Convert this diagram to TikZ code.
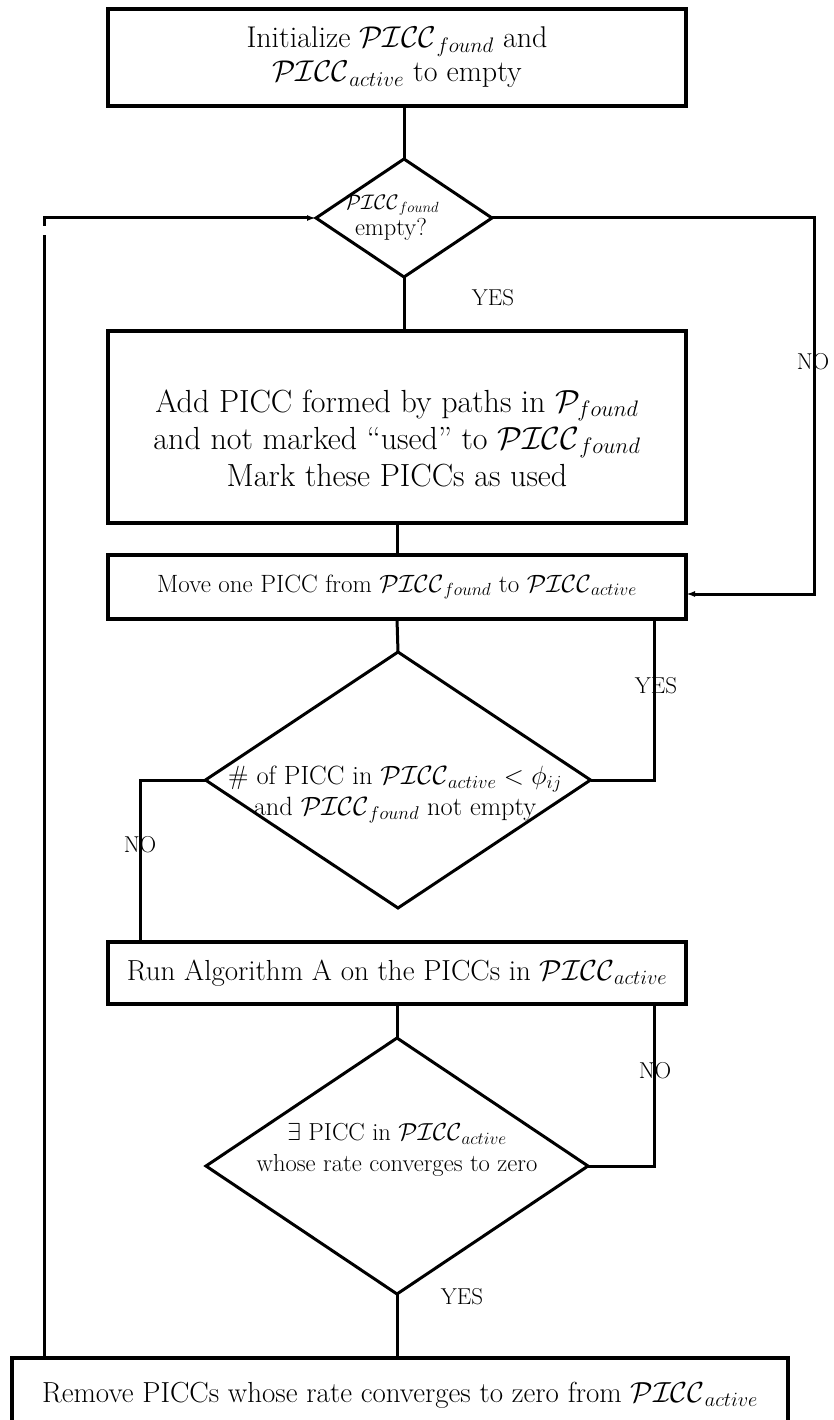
\RequirePackage{fix-cm}
\documentclass[tikz,border=0pt]{standalone}
\usetikzlibrary{shapes.geometric,arrows.meta}
\newcommand{\PICC}{\mathcal{PICC}}

\begin{document}
\begin{tikzpicture}[x=1pt,y=-1pt,
  box/.style={draw, line width=3.4pt, inner sep=0pt, outer sep=0pt, align=center},
  dia/.style={draw, diamond, line width=3pt, inner sep=0pt, outer sep=0pt},
  conn/.style={line width=3pt},
  arr/.style={conn, -{Latex[length=9pt,width=6pt]}},
  lbl/.style={font=\fontsize{23}{27}\selectfont, inner sep=0pt},
  txt/.style={inner sep=0pt, align=center}
]
\useasboundingbox (0,0) rectangle (833,1420);
\clip (0,0) rectangle (833,1420);

% process boxes
\node[box, minimum width=578pt, minimum height=97pt,
      font=\fontsize{30}{34}\selectfont] (init) at (397,57.5)
  {Initialize $\PICC_{found}$ and\\ $\PICC_{active}$ to empty};
\node[box, minimum width=578pt, minimum height=192pt] (add) at (397,427) {};
\node[txt, font=\fontsize{32}{37}\selectfont] (addT) at (397,438)
  {Add PICC formed by paths in $\mathcal{P}_{found}$\\
   and not marked ``used'' to $\PICC_{found}$\\
   Mark these PICCs as used};
\node[box, minimum width=578pt, minimum height=64pt,
      font=\fontsize{25}{30}\selectfont] (move) at (397,587)
  {Move one PICC from $\PICC_{found}$ to $\PICC_{active}$};
\node[box, minimum width=578pt, minimum height=62pt,
      font=\fontsize{29}{34}\selectfont] (run) at (397,973)
  {Run Algorithm A on the PICCs in $\PICC_{active}$};
\node[box, minimum width=776pt, minimum height=74pt,
      font=\fontsize{29}{34}\selectfont] (rem) at (400,1395)
  {Remove PICCs whose rate converges to zero from $\PICC_{active}$};

% decisions
\node[dia, minimum width=176pt, minimum height=118pt] (d1) at (404,218) {};
\node[txt, font=\fontsize{21}{25}\selectfont] (d1a) at (392,205) {$\PICC_{found}$};
\node[txt, font=\fontsize{24.5}{28}\selectfont] (d1b) at (391,229) {empty?};

\node[dia, minimum width=385pt, minimum height=256pt] (d2) at (398,780) {};
\node[txt, font=\fontsize{26.4}{31}\selectfont] (d2T) at (395,795)
  {\# of PICC in $\PICC_{active} < \phi_{ij}$\\ and $\PICC_{found}$ not empty};

\node[dia, minimum width=382pt, minimum height=256pt] (d3) at (397,1166) {};
\node[txt, font=\fontsize{24.6}{31}\selectfont] (d3T) at (397,1150)
  {$\exists$ PICC in $\PICC_{active}$\\ whose rate converges to zero};

% bend points
\coordinate (r1) at (814,594);
\coordinate (r2) at (654,780);
\coordinate (l2) at (140,780);
\coordinate (r3) at (654,1166);
\coordinate (lgap) at (44,235);
\coordinate (ltop) at (44,226);

% connectors
\draw[conn] (d1.north |- init.south) -- (d1.north);
\draw[conn] (d1.south) -- (d1.south |- add.north);
\draw[arr] (d1.east) -| (r1) -- (r1 -| move.east);
\draw[conn] (add.south) -- (move.north);
\draw[conn] (move.south) -- (d2.north);
\draw[conn] (r2 |- move.south) -- (r2) -- (d2.east);
\draw[conn] (d2.west) -- (l2) -- (l2 |- run.north);
\draw[conn] (run.south) -- (d3.north);
\draw[conn] (r3 |- run.south) -- (r3) -- (d3.east);
\draw[conn] (d3.south) -- (d3.south |- rem.north);
\draw[conn] (lgap |- rem.north) -- (lgap);
\draw[arr] (ltop) |- (d1.west);

% branch labels
\node[lbl] (y1) at (493,298) {YES};
\node[lbl] (n1) at (813,362) {NO};
\node[lbl] (y2) at (656,686) {YES};
\node[lbl] (n2) at (140,845) {NO};
\node[lbl] (n3) at (655,1071) {NO};
\node[lbl] (y3) at (462,1297) {YES};
\end{tikzpicture}
\end{document}
